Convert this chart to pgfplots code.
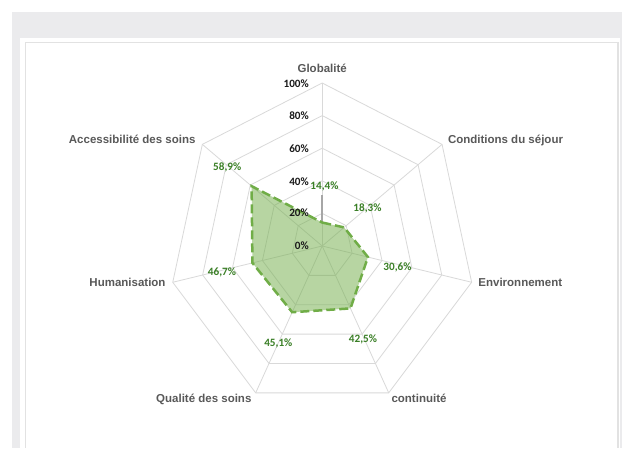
\documentclass[border=0pt]{standalone}
\usepackage{fontspec}
\setmainfont{Liberation Sans}
\newfontfamily\calfont{Carlito}
\usepackage{pgfplots}
\pgfplotsset{compat=1.18}
\usepackage{pgfplotstable}

\definecolor{bggray}{HTML}{EBEBED}
\definecolor{framec}{HTML}{E2E2E2}
\definecolor{gridc}{HTML}{D9D9D9}
\definecolor{axisc}{HTML}{A6A6A6}
\definecolor{lineg}{HTML}{70AD47}
\definecolor{labg}{HTML}{3A7F26}
\definecolor{catc}{HTML}{595959}
\definecolor{tickc}{HTML}{1A1A1A}

% k = category index (0 = Globalite, clockwise), r = percentage
\pgfplotstableread{
k r
0 14.4
1 18.3
2 30.6
3 42.5
4 45.1
5 46.7
6 58.9
7 14.4
}\datatable

\begin{document}
\begin{tikzpicture}[x=1pt,y=1pt]
\useasboundingbox (0,0) rectangle (622,448);
\fill[white] (0,0) rectangle (622,448);
\fill[bggray] (12,0) rectangle (622,436);
\fill[white] (20,0) rectangle (620,410);
\draw[framec, line width=1.3pt] (25.5,0) -- (25.5,405.5) -- (618,405.5) -- (618,0);

% radar grid
\begin{scope}[shift={(322.2,202)}, x=1.533pt, y=1.63pt]
\foreach \r in {20,40,60,80,100}
  \draw[gridc, line width=0.8pt] (90:\r) -- (38.5714:\r) -- (-12.8571:\r) -- (-64.2857:\r) -- (-115.7143:\r) -- (-167.1429:\r) -- (141.4286:\r) -- cycle;
\foreach \a in {90,38.5714,-12.8571,-64.2857,-115.7143,-167.1429,141.4286}
  \draw[gridc, line width=0.8pt] (0,0) -- (\a:100);
\draw[axisc, line width=1.6pt] (90:14.4) -- (90:31);
\end{scope}

\begin{axis}[at={(0,0)}, anchor=south west, scale only axis,
  width=622pt, height=448pt,
  xmin=-210.18, xmax=195.56, ymin=-123.93, ymax=150.92,
  hide axis, clip=false]
\addplot[draw=lineg, line width=2.5pt, dash pattern=on 9pt off 4pt,
  fill=lineg, fill opacity=0.5, mark=none]
  table[x expr={\thisrow{r}*cos(90-360/7*\thisrow{k})},
        y expr={\thisrow{r}*sin(90-360/7*\thisrow{k})}] {\datatable};
\end{axis}

% category labels
\begin{scope}[every node/.style={text=catc, font=\fontsize{11.5}{13}\selectfont\bfseries, text height=0.7em, text depth=0pt, inner sep=0pt}]
\node at (322.2,{448-69.3}) {Globalité};
\node at (505.5,{448-140}) {Conditions du séjour};
\node at (520.3,{448-283.3}) {Environnement};
\node at (419,{448-399}) {continuité};
\node at (203.8,{448-399}) {Qualité des soins};
\node at (127.5,{448-283.3}) {Humanisation};
\node at (132.2,{448-140}) {Accessibilité des soins};
\end{scope}

% radial tick labels
\begin{scope}[every node/.style={text=tickc, font=\calfont\fontsize{11.2}{13}\selectfont\bfseries, text height=0.7em, text depth=0pt, inner sep=0pt, anchor=east}]
\node at (309,{448-84.5}) {100\%};
\node at (309,{448-116}) {80\%};
\node at (309,{448-149}) {60\%};
\node at (309,{448-182}) {40\%};
\node at (309,{448-213.5}) {20\%};
\node at (309,{448-246.5}) {0\%};
\end{scope}

% data labels
\begin{scope}[every node/.style={text=labg, font=\calfont\fontsize{11.2}{13}\selectfont\bfseries, text height=0.7em, text depth=0pt, inner sep=0pt}]
\node at (324.5,{448-186.5}) {14,4\%};
\node at (367.5,{448-208}) {18,3\%};
\node at (397.5,{448-266.7}) {30,6\%};
\node at (363,{448-339.3}) {42,5\%};
\node at (278.3,{448-343.3}) {45,1\%};
\node at (222,{448-272}) {46,7\%};
\node at (227.2,{448-166.7}) {58,9\%};
\end{scope}
\end{tikzpicture}
\end{document}
